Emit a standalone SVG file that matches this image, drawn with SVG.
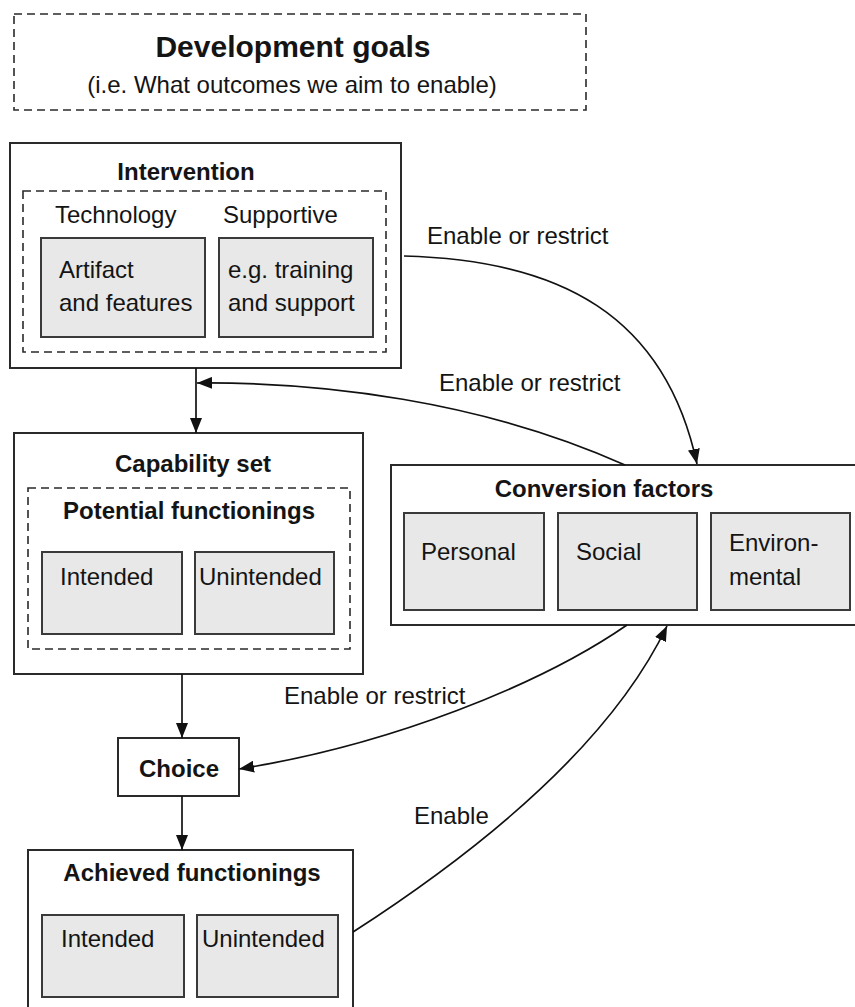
<svg xmlns="http://www.w3.org/2000/svg" width="855" height="1007" viewBox="0 0 855 1007">
<defs>
<style>
text{font-family:"Liberation Sans",Arial,sans-serif;fill:#141414;font-size:24px}
.b{font-weight:bold}
.c{text-anchor:middle}
.box{fill:#fff;stroke:#2a2a2a;stroke-width:2}
.dash{fill:none;stroke:#2a2a2a;stroke-width:1.6;stroke-dasharray:8 5}
.gray{fill:#e8e8e8;stroke:#3a3a3a;stroke-width:2}
.con{fill:none;stroke:#111;stroke-width:1.7}
</style>
<marker id="ah" markerUnits="userSpaceOnUse" markerWidth="16" markerHeight="12" refX="15" refY="6" orient="auto" viewBox="0 0 16 12">
<path d="M0,0 L15,6 L0,12 z" fill="#111"/>
</marker>
</defs>
<rect width="855" height="1007" fill="#fff"/>

<g id="development-goals">
<rect class="dash" x="14" y="14" width="572" height="96"/>
<text class="b c" x="293" y="57" style="font-size:30px">Development goals</text>
<text class="c" x="292" y="93">(i.e. What outcomes we aim to enable)</text>
</g>

<g id="intervention">
<rect class="box" x="10" y="143" width="391" height="225"/>
<text class="b c" x="186" y="180">Intervention</text>
<rect class="dash" x="23" y="191" width="363" height="161"/>
<text x="55" y="223">Technology</text>
<text x="223" y="223">Supportive</text>
<g id="artifact">
<rect class="gray" x="41" y="238" width="164" height="99"/>
<text x="59" y="278">Artifact</text>
<text x="59" y="311">and features</text>
</g>
<g id="training">
<rect class="gray" x="219" y="238" width="154" height="99"/>
<text x="228" y="278">e.g. training</text>
<text x="228" y="311">and support</text>
</g>
</g>

<g id="capability-set">
<rect class="box" x="14" y="433" width="349" height="241"/>
<text class="b c" x="193" y="472">Capability set</text>
<rect class="dash" x="28" y="488" width="322" height="161"/>
<text class="b c" x="189" y="519">Potential functionings</text>
<g id="cap-intended">
<rect class="gray" x="42" y="552" width="140" height="82"/>
<text x="60" y="585">Intended</text>
</g>
<g id="cap-unintended">
<rect class="gray" x="195" y="552" width="139" height="82"/>
<text x="199" y="585">Unintended</text>
</g>
</g>

<g id="conversion-factors">
<rect class="box" x="391" y="465" width="470" height="160"/>
<text class="b c" x="604" y="497">Conversion factors</text>
<g id="personal">
<rect class="gray" x="404" y="513" width="140" height="97"/>
<text x="421" y="560">Personal</text>
</g>
<g id="social">
<rect class="gray" x="558" y="513" width="139" height="97"/>
<text x="576" y="560">Social</text>
</g>
<g id="environmental">
<rect class="gray" x="711" y="513" width="139" height="97"/>
<text x="729" y="551">Environ-</text>
<text x="729" y="585">mental</text>
</g>
</g>

<g id="choice">
<rect class="box" x="118" y="738" width="121" height="58"/>
<text class="b c" x="179" y="777">Choice</text>
</g>

<g id="achieved-functionings">
<rect class="box" x="28" y="850" width="325" height="170"/>
<text class="b c" x="192" y="881">Achieved functionings</text>
<g id="ach-intended">
<rect class="gray" x="42" y="915" width="142" height="82"/>
<text x="61" y="947">Intended</text>
</g>
<g id="ach-unintended">
<rect class="gray" x="197" y="915" width="141" height="82"/>
<text x="202" y="947">Unintended</text>
</g>
</g>

<g id="connectors">
<line class="con" x1="196" y1="368" x2="196" y2="433" marker-end="url(#ah)"/>
<line class="con" x1="182" y1="674" x2="182" y2="738" marker-end="url(#ah)"/>
<line class="con" x1="182" y1="796" x2="182" y2="850" marker-end="url(#ah)"/>
<path class="con" d="M404,256 C560,260 665,315 697,464" marker-end="url(#ah)"/>
<path class="con" d="M625,465 C480,400 320,382 197,383" marker-end="url(#ah)"/>
<path class="con" d="M627,625 C540,685 390,745 239,769" marker-end="url(#ah)"/>
<path class="con" d="M353,932 C480,850 610,745 667,626" marker-end="url(#ah)"/>
<text x="427" y="244">Enable or restrict</text>
<text x="439" y="391">Enable or restrict</text>
<text x="284" y="704">Enable or restrict</text>
<text x="414" y="824">Enable</text>
</g>
</svg>
